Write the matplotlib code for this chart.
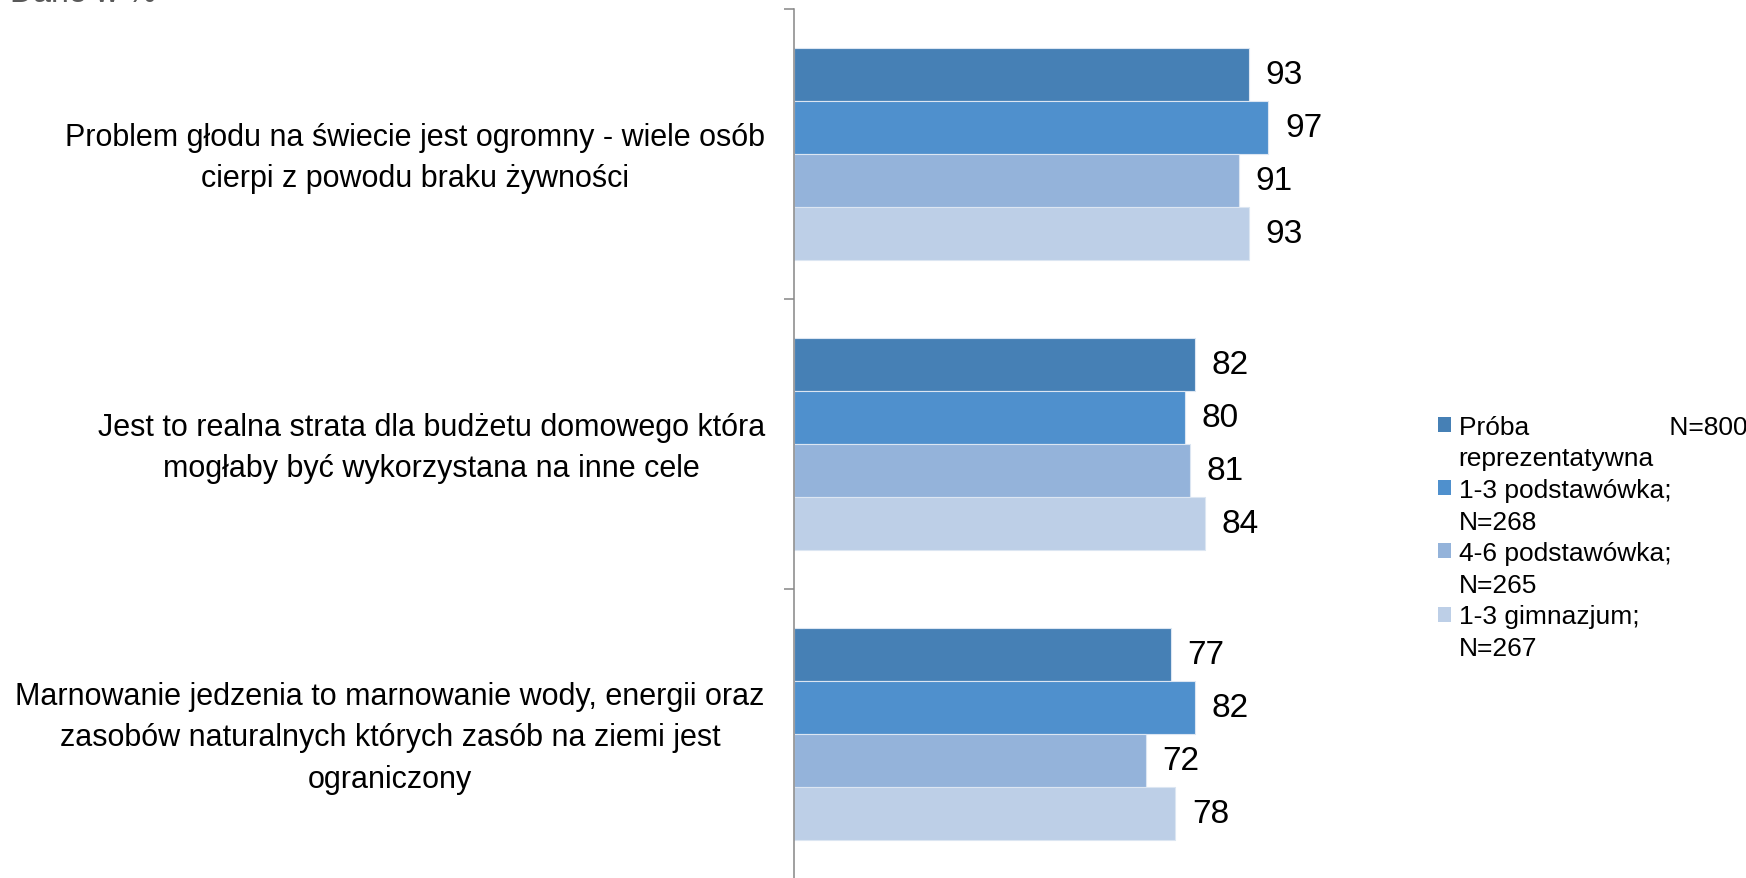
import numpy as np
import matplotlib
matplotlib.use("Agg")
from matplotlib import pyplot as plt
from matplotlib.patches import Rectangle

plt.rcParams['font.family'] = ['Liberation Sans', 'DejaVu Sans']

categories = [
    "Problem głodu na świecie jest ogromny - wiele osób\ncierpi z powodu braku żywności",
    "Jest to realna strata dla budżetu domowego która\nmogłaby być wykorzystana na inne cele",
    "Marnowanie jedzenia to marnowanie wody, energii oraz\nzasobów naturalnych których zasób na ziemi jest\nograniczony",
]
# each legend entry: first line (with swatch), second line
series_labels = [
    ("Próba                   N=800", "reprezentatywna"),
    ("1-3 podstawówka;", "N=268"),
    ("4-6 podstawówka;", "N=265"),
    ("1-3 gimnazjum;", "N=267"),
]
proba = [93, 82, 77]
podst_13 = [97, 80, 82]
podst_46 = [91, 81, 72]
gimn_13 = [93, 84, 78]

colors = ['#4680B5', '#4F90CD', '#94B3DA', '#BDCFE7']

fig = plt.figure(figsize=(17.46, 8.79), dpi=100)
ax = fig.add_axes([794/1746, -1/879, 489/1746, 870/879])

y = np.arange(len(categories))
h = 0.73 / 4
for j, vals in enumerate([proba, podst_13, podst_46, gimn_13]):
    bars = ax.barh(y + (j - 1.5) * h, vals, height=h, color=colors[j],
                   edgecolor='#dce6f2', linewidth=0.8)
    ax.bar_label(bars, padding=12, fontsize=24)

ax.set_xlim(0, 100)
ax.set_ylim(2.5, -0.5)

ax.set_yticks([-0.5, 0.5, 1.5, 2.5])
ax.set_yticklabels([])
# labels sit a touch above the group centre, as in the source
ax.set_yticks(y - 0.02, minor=True)
ax.set_yticklabels(categories, minor=True, fontsize=22, multialignment='center',
                   linespacing=1.5)
ax.tick_params(axis='y', which='major', length=7.5, width=1.1, color='#868686')
ax.tick_params(axis='y', which='minor', length=0, pad=21)

ax.xaxis.set_visible(False)
for s in ['top', 'right', 'bottom']:
    ax.spines[s].set_visible(False)
ax.spines['left'].set_color('#868686')
ax.spines['left'].set_linewidth(1.1)

fig.text(10/1746, 1 - 2/879, "Dane w %", fontsize=23, color='#595959', va='baseline')

# legend: swatch on the first line of each two-line entry
handles, labels = [], []
for c, (l1, l2) in zip(colors, series_labels):
    handles.append(Rectangle((0, 0), 1, 1, facecolor=c, edgecolor='none'))
    labels.append(l1)
    handles.append(Rectangle((0, 0), 1, 1, facecolor='none', edgecolor='none'))
    labels.append(l2)
fig.legend(handles, labels, loc='upper left', bbox_to_anchor=(1427/1746, 1 - 405/879),
           frameon=False, fontsize=19, handlelength=0.5, handleheight=0.5,
           handletextpad=0.3, labelspacing=0.29, borderaxespad=0)

fig.savefig('out.png', dpi=100)
